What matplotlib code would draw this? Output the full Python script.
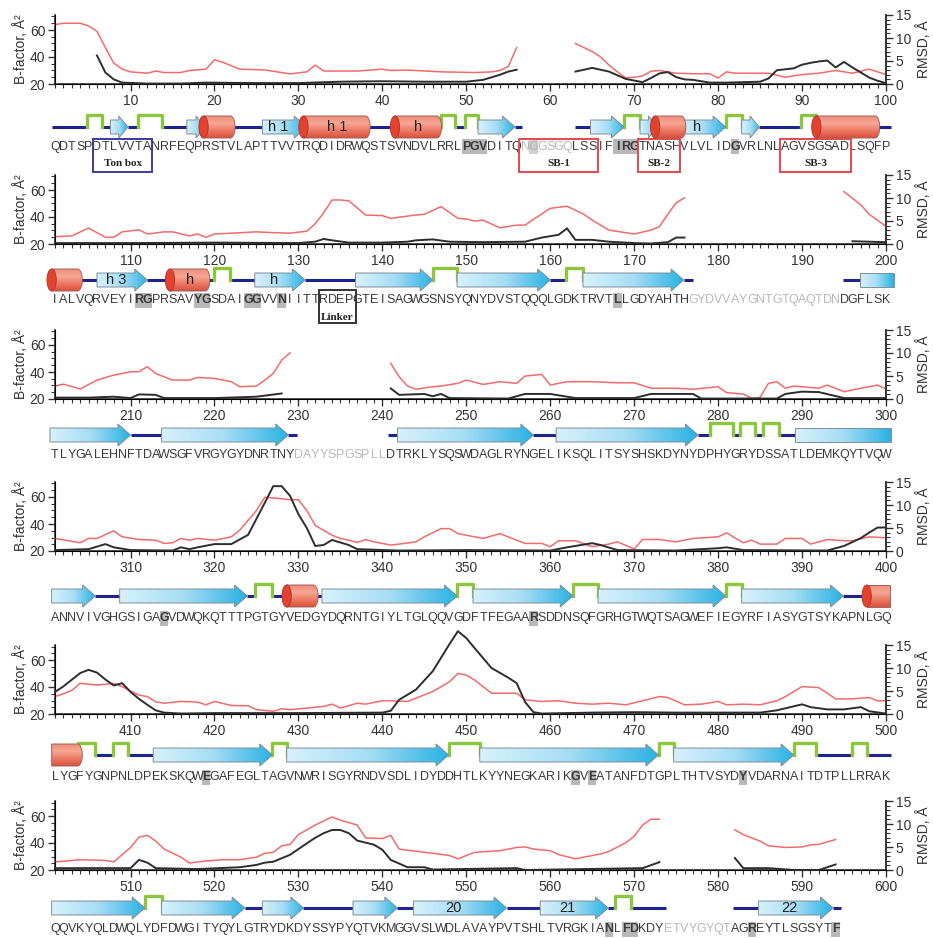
import numpy as np
import matplotlib
matplotlib.use('Agg')
import matplotlib.pyplot as plt
from matplotlib.patches import Polygon, Rectangle, Ellipse
from matplotlib.colors import LinearSegmentedColormap
from matplotlib.ticker import MultipleLocator

plt.rcParams['font.family'] = ['Liberation Sans', 'DejaVu Sans']

nan = np.nan

# ---- B-factor (red, left axis) and RMSD (black, right axis), per row ----
bf_res_1 = [1, 2, 4, 5, 6, 7, 8, 9, 10, 12, 13, 14, 16, 17, 19, 20, 21, 23, 26, 29, 31, 32, 33, 37, 40, 41, 43, 47, 51,
            53, 54, 55, 56, nan,
            63, 65, 66, 67, 68, 69, 70, 71, 72, 73, 75, 77, 79, 80, 81, 82, 83, 86, 88, 90, 92, 94, 96, 98, 100]
bf_val_1 = [64, 65, 65, 63, 59, 47, 35.5, 31, 29, 28, 29.6, 28.5, 28.5, 30, 31, 38, 36, 31, 30.4, 27.5, 29, 34, 29.6, 29.6,
            31, 30, 30.3, 29, 28.5, 29, 30, 33, 47, nan,
            50, 44, 40, 34, 29, 24.5, 25, 26, 29.5, 30, 28, 27.6, 27.6, 24.4, 29, 28, 28, 28, 25, 27, 28, 30, 28, 31, 27]
rm_res_1 = [6, 7, 8, 9, 12, 16, 19, 25, 30, 35, 40, 45, 50, 52, 54, 55, 56, nan,
            63, 65, 67, 69, 71, 72, 73, 74, 75, 76, 77, 79, 81, 85, 86, 87, 88, 89, 90, 91, 92, 93, 94, 95, 96, 97, 98, 99, 100]
rm_val_1 = [6.2, 2.5, 1.0, 0.3, 0.1, 0.1, 0.3, 0.2, 0.2, 0.5, 0.6, 0.5, 0.5, 0.9, 2.0, 2.7, 3.1, nan,
            2.7, 3.5, 2.7, 1.1, 0.4, 1.3, 2.3, 2.6, 1.5, 1.0, 0.9, 0.3, 0.3, 0.5, 1.2, 3.0, 3.2, 3.4, 4.2, 4.6, 4.9, 5.1,
            3.6, 4.8, 3.6, 2.5, 1.4, 0.7, 0.2]

bf_res_2 = [101, 103, 105, 107, 108, 109, 111, 112, 114, 115, 117, 118, 119, 120, 122, 125, 127, 129, 131, 132,
            133, 134, 135, 136, 138, 140, 141, 144, 145, 147, 149, 150, 151, 152, 154, 156, 157, 158, 160, 162,
            164, 165, 167, 170, 172, 173, 174, 175, 176, nan, 195, 197, 198, 200]
bf_val_2 = [25.4, 26, 31.8, 25, 25, 29, 30.5, 27.4, 29, 29, 26, 27.4, 25, 27.4, 28, 29, 28.4, 28, 29.5, 35,
            43, 52.6, 52.6, 52, 41.5, 41, 39, 41.5, 42, 47.7, 39, 38.5, 37, 37.7, 32, 34, 34, 38.2, 46.4, 48,
            42, 37.7, 30.3, 27.4, 30.3, 32.8, 42, 50.5, 54.2, nan, 58.8, 49, 42, 33]
rm_res_2 = [101, 110, 120, 130, 132, 133, 134, 136, 140, 143, 144, 146, 148, 152, 157, 159, 161, 162, 163, 165,
            167, 170, 172, 174, 175, 176, nan, 196, 200]
rm_val_2 = [0.2, 0.2, 0.3, 0.2, 0.5, 1.1, 0.8, 0.3, 0.3, 0.5, 0.8, 1.0, 0.5, 0.4, 0.5, 1.4, 2.0, 3.4, 0.9, 0.9,
            0.5, 0.2, 0.1, 0.4, 1.4, 1.4, nan, 0.6, 0.4]

bf_res_3 = [201, 202, 204, 206, 208, 209, 210, 211, 212, 213, 215, 217, 218, 220, 222, 223, 225, 226, 227, 228, 229, nan,
            241, 242, 243, 244, 246, 247, 249, 250, 252, 254, 256, 257, 259, 260, 261, 262, 265, 268, 270, 272, 275,
            277, 280, 281, 283, 284, 285, 286, 287, 288, 289, 292, 293, 295, 297, 299, 300]
bf_val_3 = [29.6, 31, 27.4, 34, 37.7, 38.9, 40.2, 40.2, 43.9, 38.9, 34, 34, 36, 35.2, 32.8, 29.1, 29.6, 34, 38.9, 48.8,
            54.2, nan,
            46.4, 36.5, 29.6, 27.2, 29.1, 29.6, 31.6, 34, 30.8, 32.8, 31.6, 37, 38.2, 30.3, 31.6, 32.8, 32.8, 32, 32, 28,
            28, 27.2, 29.1, 24.7, 23.7, 20.5, 21.2, 31.6, 32.8, 28, 29.6, 28, 30.3, 25.4, 28, 30.3, 27.4]
rm_res_3 = [201, 205, 208, 210, 211, 213, 214, 220, 225, 228, nan,
            241, 242, 245, 246, 247, 248, 255, 257, 260, 263, 270, 272, 277, 278, 287, 288, 290, 292, 295, 300]
rm_val_3 = [0.3, 0.3, 0.5, 0.2, 1.0, 0.9, 0.2, 0.2, 0.5, 1.2, nan,
            2.3, 0.9, 1.1, 0.6, 1.1, 0.2, 0.1, 1.1, 1.1, 0.2, 0.2, 1.1, 1.1, 0.1, 0.1, 1.1, 1.6, 1.5, 0.2, 0.2]

bf_res_4 = [301, 304, 305, 306, 308, 309, 311, 313, 314, 315, 316, 317, 318, 320, 322, 323, 325, 326, 327, 329, 330,
            331, 332, 334, 335, 336, 337, 338, 339, 341, 342, 344, 345, 347, 348, 349, 352, 354, 356, 357, 359, 360,
            361, 363, 365, 367, 368, 370, 371, 373, 375, 377, 380, 381, 383, 384, 385, 387, 388, 390, 391, 393, 395,
            396, 398, 400]
bf_val_4 = [29.3, 26.1, 29.3, 29.3, 34.9, 30.5, 28.5, 28, 25.6, 26.1, 29.3, 28, 29.3, 28, 30.5, 35.4, 50, 59.8, 59.3, 58,
            58, 50, 39, 31.7, 29.3, 28, 26.3, 28.5, 26.8, 24.4, 25.1, 26.8, 30.5, 36.6, 36.6, 32.9, 29.3, 32.9, 28,
            25.6, 25.6, 23.2, 27.6, 27.6, 23.2, 25.1, 26.8, 21.5, 28.5, 28.5, 26.8, 29.3, 30.5, 33.4, 26.1, 28, 25.1,
            25.1, 29.3, 29.3, 25.1, 28.5, 27.6, 27.6, 30.5, 29.8]
rm_res_4 = [301, 305, 307, 308, 310, 315, 316, 317, 318, 320, 322, 324, 325, 326, 327, 328, 329, 330, 331, 332, 333,
            334, 336, 337, 342, 350, 360, 362, 365, 366, 368, 375, 380, 381, 383, 393, 395, 397, 398, 399, 400]
rm_val_4 = [0.2, 0.4, 1.5, 0.8, 0.2, 0.1, 0.8, 0.4, 0.8, 1.5, 1.5, 3.5, 7, 10.5, 14.1, 14.1, 12, 8, 5, 1.1, 1.3,
            2.4, 1.3, 0.4, 0.1, 0.2, 0.1, 0.8, 1.7, 1.3, 0.2, 0.1, 0.6, 0.8, 0.2, 0.1, 1.1, 2.8, 4.0, 5.1, 5.1]

bf_res_5 = [401, 402, 403, 404, 406, 407, 408, 409, 410, 411, 412, 413, 414, 416, 418, 419, 420, 422, 424, 425, 427,
            428, 429, 431, 433, 434, 435, 437, 438, 440, 441, 443, 444, 446, 448, 449, 450, 451, 453, 456, 457, 459,
            461, 463, 465, 467, 469, 471, 473, 474, 476, 478, 480, 481, 483, 485, 487, 488, 490, 492, 493, 494, 496,
            498, 499, 500]
bf_val_5 = [32.9, 35, 37.5, 42.7, 41.5, 42, 42.7, 40.3, 37, 34, 32.9, 29, 28, 29.3, 28.8, 26.8, 29.3, 26.3, 26.1, 23.2,
            22, 23.9, 23.2, 24.4, 25.6, 27.3, 24.4, 28, 27.3, 29.8, 29.8, 29.3, 31.7, 36.6, 43.9, 50, 48.8, 45.1, 35.4,
            35.4, 30.5, 29.3, 29.8, 28, 27.3, 28, 26.8, 29.8, 32.9, 32.2, 26.8, 27.3, 29.3, 26.8, 27.3, 26.8, 29.8, 32.9,
            40.3, 39.5, 35.4, 31.2, 31.2, 32.2, 29.8, 29.8]
rm_res_5 = [401, 402, 404, 405, 406, 407, 408, 409, 410, 411, 412, 413, 414, 416, 420, 430, 440, 441, 442, 444, 446,
            448, 449, 450, 451, 453, 455, 456, 457, 458, 459, 465, 470, 475, 485, 487, 490, 491, 493, 495, 497, 498, 500]
rm_val_5 = [4.8, 6, 8.9, 9.6, 9, 7.5, 6.2, 6.7, 4.8, 3.3, 2, 0.8, 0.3, 0.1, 0.2, 0.2, 0.3, 0.7, 3.1, 5.3, 9.3,
            15.2, 18, 16.5, 14.3, 10, 7.9, 6.7, 2.6, 0.4, 0.1, 0.3, 0.4, 0.3, 0.3, 0.8, 2.1, 1.5, 1.0, 1.0, 1.5, 0.6, 0.1]

bf_res_6 = [501, 504, 507, 508, 510, 511, 512, 513, 514, 516, 517, 519, 521, 523, 525, 526, 527, 528, 529, 530, 532,
            534, 535, 537, 538, 540, 541, 542, 545, 546, 548, 549, 550, 551, 554, 556, 557, 558, 560, 561, 563, 565,
            566, 567, 569, 570, 571, 572, 573, nan, 582, 583, 585, 586, 588, 590, 591, 592, 594]
bf_val_6 = [26, 27.6, 27.1, 26, 36.7, 44.3, 45.7, 41.4, 35.5, 29.5, 25.2, 26.7, 27.6, 27.6, 29.5, 32.4, 33.1, 37.9, 39,
            46.2, 53.3, 59.3, 56.9, 53.3, 43.8, 43.3, 45.7, 35.5, 33.1, 32.4, 30.7, 28.3, 30.7, 33.1, 34.3, 36.7, 37.1,
            35.5, 34.3, 31.4, 28.3, 30.7, 31.9, 33.8, 40.2, 45, 53.3, 57.6, 57.6, nan,
            49.8, 46.2, 41.4, 37.9, 36.7, 37.1, 38.6, 39, 42.6]
rm_res_6 = [501, 510, 511, 512, 513, 518, 523, 525, 526, 527, 529, 531, 532, 533, 534, 535, 536, 537, 539, 540, 541,
            543, 545, 546, 556, 557, 571, 573, nan, 582, 583, 586, 589, 592, 594]
rm_val_6 = [0.4, 0.4, 2.2, 1.6, 0.4, 0.2, 0.6, 1.1, 1.6, 1.8, 3.3, 5.8, 7, 8, 8.7, 8.7, 8, 6.4, 5.5, 4.4, 2.2,
            0.6, 0.6, 0.1, 0.4, 0.0, 0.4, 1.7, nan, 2.6, 0.4, 0.4, 0.0, 0.0, 1.2]

# ---- sequence per row ----
seq_1 = "QDTSPDTLVVTANRFEQPRSTVLAPTTVVTRQDIDRWQSTSVNDVLRRLPGVDITQNGGSGQLSSIFIRGTNASHVLVLIDGVRLNLAGVSGSADLSQFP"
seq_2 = "IALVQRVEYIRGPRSAVYGSDAIGGVVNIITTRDEPGTEISAGWGSNSYQNYDVSTQQQLGDKTRVTLLGDYAHTHGYDVVAYGNTGTQAQTDNDGFLSK"
seq_3 = "TLYGALEHNFTDAWSGFVRGYGYDNRTNYDAYYSPGSPLLDTRKLYSQSWDAGLRYNGELIKSQLITSYSHSKDYNYDPHYGRYDSSATLDEMKQYTVQW"
seq_4 = "ANNVIVGHGSIGAGVDWQKQTTTPGTGYVEDGYDQRNTGIYLTGLQQVGDFTFEGAARSDDNSQFGRHGTWQTSAGWEFIEGYRFIASYGTSYKAPNLGQ"
seq_5 = "LYGFYGNPNLDPEKSKQWEGAFEGLTAGVNWRISGYRNDVSDLIDYDDHTLKYYNEGKARIKGVEATANFDTGPLTHTVSYDYVDARNAITDTPLLRRAK"
seq_6 = "QQVKYQLDWQLYDFDWGITYQYLGTRYDKDYSSYPYQTVKMGGVSLWDLAVAYPVTSHLTVRGKIANLFDKDYETVYGYQTAGREYTLSGSYTF"

# highlighted (boxed) residues and disordered (grey) residue ranges
hi_1 = [50, 51, 52, 58, 68, 69, 70, 82]
hi_2 = [111, 112, 118, 119, 124, 125, 128, 168]
hi_3 = []
hi_4 = [314, 358]
hi_5 = [419, 463, 465, 483]
hi_6 = [567, 569, 570, 584, 594]
grey_1 = [(57, 62)]
grey_2 = [(177, 194)]
grey_3 = [(230, 240)]
grey_4 = []
grey_5 = []
grey_6 = [(574, 581)]

# ---- secondary structure: c coil, t turn, s strand, S strand (cut), h helix, H helix (cut right), k helix (cut left)
ss_1 = [('c', 0.6, 4.8), ('t', 4.8, 6.6), ('c', 6.6, 7.6), ('s', 7.6, 9.7), ('c', 9.7, 10.9), ('t', 10.9, 13.8),
        ('c', 13.8, 16.7), ('s', 16.7, 18.9), ('h', 18.7, 21.9), ('c', 21.9, 25.7), ('s', 25.7, 31.0, 'h 1'),
        ('h', 30.6, 38.0, 'h 1'), ('c', 38, 41.5), ('h', 41.5, 46.5, 'h'), ('c', 46.5, 47), ('t', 47, 48.7),
        ('c', 48.7, 49.9), ('t', 49.9, 51.4), ('s', 51.4, 55.8), ('c', 55.8, 56.6),
        ('c', 63, 64.8), ('s', 64.8, 68.8), ('t', 68.8, 70.7), ('s', 70.7, 72.8), ('h', 72.5, 75.6),
        ('s', 75.6, 80.9, 'h'), ('t', 80.9, 82.8), ('s', 82.8, 84.9), ('c', 84.9, 89.9), ('t', 89.9, 91.7),
        ('h', 91.7, 98.7), ('c', 98.7, 100.6)]
ss_2 = [('h', 100.6, 103.7), ('c', 103.7, 106), ('s', 106, 112, 'h 3'), ('c', 112, 114.7), ('h', 114.7, 118.9, 'h'),
        ('c', 118.9, 120), ('t', 120, 121.9), ('c', 121.9, 124.8), ('s', 124.8, 130.8, 'h'), ('c', 130.8, 136.8),
        ('s', 136.8, 146), ('t', 146, 148.9), ('s', 148.9, 160), ('c', 160, 161.9), ('t', 161.9, 163.9),
        ('s', 163.9, 175.9), ('c', 175.9, 177), ('c', 194.9, 196.9), ('S', 196.9, 200.9)]
ss_3 = [('s', 200.4, 210), ('c', 210, 213.7), ('s', 213.7, 228.8), ('c', 228.8, 229.8), ('c', 240.7, 241.8),
        ('s', 241.8, 258), ('c', 258, 260.7), ('s', 260.7, 277.6), ('c', 277.6, 279), ('t', 279, 281.8),
        ('c', 281.8, 282.6), ('t', 282.6, 284.4), ('c', 284.4, 285.4), ('t', 285.4, 287.2), ('c', 287.2, 289.2),
        ('S', 289.2, 300.6)]
ss_4 = [('s', 300.6, 305.8), ('c', 305.8, 308.7), ('s', 308.7, 323.9), ('c', 323.9, 324.8), ('t', 324.8, 326.9),
        ('c', 326.9, 328.6), ('h', 328.6, 331.8), ('c', 331.8, 332.8), ('s', 332.8, 348.9), ('t', 348.9, 350.8),
        ('s', 350.8, 362.7), ('t', 362.7, 365.7), ('s', 365.7, 380.9), ('t', 380.9, 382.8), ('s', 382.8, 394.9),
        ('c', 394.9, 397.7), ('H', 397.7, 400.5)]
ss_5 = [('k', 400.6, 403.7), ('t', 403.7, 405.8), ('c', 405.8, 407.9), ('t', 407.9, 409.7), ('c', 409.7, 412.7),
        ('s', 412.7, 426.9), ('t', 426.9, 428.6), ('s', 428.6, 447.9), ('t', 447.9, 451.6), ('s', 451.6, 472.9),
        ('t', 472.9, 474.7), ('s', 474.7, 489), ('t', 489, 491.7), ('c', 491.7, 495.9), ('t', 495.9, 497.7),
        ('c', 497.7, 500.6)]
ss_6 = [('s', 500.6, 511.7), ('t', 511.7, 513.7), ('s', 513.7, 523.6), ('c', 523.6, 525.7), ('s', 525.7, 530.6),
        ('c', 530.6, 536.5), ('s', 536.5, 541.8), ('c', 541.8, 543.7), ('s', 543.7, 554.8, '20'), ('c', 554.8, 558.8),
        ('s', 558.8, 566.9, '21'), ('c', 566.9, 567.7), ('t', 567.7, 569.6), ('c', 569.6, 573.8),
        ('c', 581.8, 584.8), ('s', 584.8, 593.7, '22'), ('c', 593.7, 594.6)]

# labelled boxes under the sequence: (first, last, text, colour, top px, bottom px)
boxes_1 = [(5.5, 12.6, 'Ton box', '#3b3ba0', -12, -45), (56.3, 65.7, 'SB-1', '#e8484d', -12, -45),
           (70.5, 75.5, 'SB-2', '#e8484d', -12, -45), (87.4, 95.8, 'SB-3', '#e8484d', -12, -45)]
boxes_2 = [(132.5, 136.8, 'Linker', '#333333', -10, -43)]

# ---- layout (pixels) ----
W, HF = 933, 938
AX_L, AX_R = 55, 886
PPR = (AX_R - AX_L) / 99.0
plot_top = [15, 175, 330, 482, 645, 801]
plot_bot = [84, 244, 399, 551, 714, 870]
strip_mid = [127, 280, 435, 596, 755, 908]
seq_off = [20, 20, 20, 22, 22, 21]

RED = '#f26b6b'
DARK = '#2d2d2d'
NAVY = '#1f2390'
GREEN = '#8cc63f'
EDGE = '#7d8e9a'
cm_strand = LinearSegmentedColormap.from_list('st', ['#d8f1fb', '#a6ddf4', '#27b2e4'])
cm_helix = LinearSegmentedColormap.from_list('hx', ['#d9503c', '#ec7862', '#f6a795', '#f08d79'])


def rect(l, t, r, b):
    return [l / W, 1 - b / HF, (r - l) / W, (b - t) / HF]


def draw_strand(ax, a, b, label=None, head=True):
    bw, hw = 7, 11
    hl = 1.5 if b - a > 3 else 1.1
    if head:
        verts = [(a, -bw), (b - hl, -bw), (b - hl, -hw), (b, 0), (b - hl, hw), (b - hl, bw), (a, bw)]
    else:
        verts = [(a, -bw), (b, -bw), (b, bw), (a, bw)]
    poly = Polygon(verts, closed=True, fc='none', ec=EDGE, lw=0.7, zorder=4)
    ax.add_patch(poly)
    grad = np.linspace(0, 1, 256).reshape(1, -1)
    im = ax.imshow(grad, extent=[a, b, -hw, hw], aspect='auto', cmap=cm_strand, origin='lower', zorder=3)
    im.set_clip_path(poly)
    if label:
        ax.text((a + b - (hl if head else 0)) / 2, 0, label, ha='center', va='center',
                fontsize=10.5, color='#222222', zorder=6)


def draw_helix(ax, a, b, label=None, left=True, right=True):
    hh = 11
    r = 0.55
    t = np.linspace(np.pi / 2, -np.pi / 2, 30)
    verts = [(a, hh)]
    if right:
        verts += [(b + r * np.cos(v), hh * np.sin(v)) for v in t]
    else:
        verts += [(b, hh), (b, -hh)]
    verts += [(a, -hh)]
    body = Polygon(verts, closed=True, fc='none', ec='#a0625a', lw=0.7, zorder=6)
    ax.add_patch(body)
    grad = np.linspace(0, 1, 256).reshape(-1, 1)
    im = ax.imshow(grad, extent=[a - r, b + r, -hh, hh], aspect='auto', cmap=cm_helix, origin='lower', zorder=5)
    im.set_clip_path(body)
    if left:
        ax.add_patch(Ellipse((a, 0), 2 * r, 2 * hh, fc='#e5412f', ec='#b13a30', lw=0.7, zorder=7))
    if label:
        ax.text((a + b) / 2 + 0.3, 0, label, ha='center', va='center', fontsize=10.5, color='#222222', zorder=8)


def draw_row(i, start, bf_x, bf_y, rm_x, rm_y, ss, seq, hi, grey, boxes):
    top, bot = plot_top[i], plot_bot[i]
    ax = fig.add_axes(rect(AX_L, top, AX_R, bot))
    ax.plot(bf_x, bf_y, color=RED, lw=1.1, clip_on=False, zorder=3)
    ax.set_xlim(start + 1, start + 100)
    ax.set_ylim(20, 20 + (bot - top) / 1.35)
    ax.xaxis.set_major_locator(MultipleLocator(10))
    ax.xaxis.set_minor_locator(MultipleLocator(1))
    ax.yaxis.set_major_locator(MultipleLocator(20))
    ax.yaxis.set_minor_locator(MultipleLocator(5))
    ax.tick_params(which='major', length=5, width=1.0, colors='#333333', labelsize=10, pad=2)
    ax.tick_params(which='minor', length=3, width=0.8, colors='#333333')
    ax.spines['top'].set_visible(False)
    for s in ['left', 'bottom', 'right']:
        ax.spines[s].set_linewidth(1.2)
        ax.spines[s].set_color('#333333')
    ax.set_ylabel('B-factor, Å²', fontsize=10, color='#333333')
    ax.yaxis.set_label_coords(-0.033, 0.5)
    ax.patch.set_alpha(0)

    ax2 = ax.twinx()
    ax2.plot(rm_x, rm_y, color=DARK, lw=1.4, clip_on=False, zorder=4)
    ax2.set_ylim(0, 15)
    ax2.yaxis.set_major_locator(MultipleLocator(5))
    ax2.yaxis.set_minor_locator(MultipleLocator(1))
    ax2.tick_params(which='major', length=5, width=1.0, colors='#333333', labelsize=10, pad=2)
    ax2.tick_params(which='minor', length=3, width=0.8, colors='#333333')
    ax2.spines['top'].set_visible(False)
    ax2.spines['right'].set_linewidth(1.2)
    ax2.spines['right'].set_color('#333333')
    ax2.set_ylabel('RMSD, Å', fontsize=10, color='#333333')
    ax2.yaxis.set_label_coords(1.036, 0.5)

    # structure strip
    mid = strip_mid[i]
    SL, SR = 25, 915
    axs = fig.add_axes(rect(SL, mid - 20, SR, mid + 20))
    axs.axis('off')
    for el in ss:
        kind, a, b = el[0], el[1], el[2]
        lab = el[3] if len(el) > 3 else None
        if kind == 'c':
            axs.plot([a, b], [0, 0], color=NAVY, lw=2.2, solid_capstyle='butt', zorder=1, clip_on=False)
        elif kind == 't':
            axs.plot([a, a, b, b], [0, 12, 12, 0], color=GREEN, lw=2.4, zorder=2, clip_on=False)
        elif kind == 's':
            draw_strand(axs, a, b, lab)
        elif kind == 'S':
            draw_strand(axs, a, b, lab, head=False)
        elif kind == 'h':
            draw_helix(axs, a, b, lab)
        elif kind == 'H':
            draw_helix(axs, a, b, lab, right=False)
        elif kind == 'k':
            draw_helix(axs, a, b, lab, left=False)

    # sequence
    ys = -seq_off[i]
    k = 0
    while k < len(hi):
        j = k
        while j + 1 < len(hi) and hi[j + 1] == hi[j] + 1:
            j += 1
        fc = '#d0d0d0' if any(g0 <= hi[k] <= g1 for g0, g1 in grey) else '#b8b8b8'
        axs.add_patch(Rectangle((hi[k] - 0.5, ys - 7.5), hi[j] - hi[k] + 1, 15, fc=fc, ec='none',
                                zorder=0, clip_on=False))
        k = j + 1
    for n, ch in enumerate(seq):
        r = start + 1 + n
        is_grey = any(g0 <= r <= g1 for g0, g1 in grey)
        col = '#b9b9b9' if is_grey else '#3a3a3a'
        axs.text(r, ys, ch, ha='center', va='center', fontsize=9, color=col,
                 fontweight='bold' if r in hi else 'normal', clip_on=False, zorder=2)

    for a, b, txt, col, yt, yb in boxes:
        axs.add_patch(Rectangle((a, yb), b - a, yt - yb, fc='none', ec=col, lw=1.4, zorder=3, clip_on=False))
        axs.text((a + b) / 2, -37, txt, ha='center', va='center', fontsize=8, fontweight='bold',
                 family=['Liberation Serif', 'DejaVu Serif'], color='#222222', clip_on=False)

    axs.set_xlim(start + 1 + (SL - AX_L) / PPR, start + 1 + (SR - AX_L) / PPR)
    axs.set_ylim(-20, 20)


fig = plt.figure(figsize=(9.33, 9.38), dpi=100)
fig.patch.set_facecolor('white')

draw_row(0, 0, bf_res_1, bf_val_1, rm_res_1, rm_val_1, ss_1, seq_1, hi_1, grey_1, boxes_1)
draw_row(1, 100, bf_res_2, bf_val_2, rm_res_2, rm_val_2, ss_2, seq_2, hi_2, grey_2, boxes_2)
draw_row(2, 200, bf_res_3, bf_val_3, rm_res_3, rm_val_3, ss_3, seq_3, hi_3, grey_3, [])
draw_row(3, 300, bf_res_4, bf_val_4, rm_res_4, rm_val_4, ss_4, seq_4, hi_4, grey_4, [])
draw_row(4, 400, bf_res_5, bf_val_5, rm_res_5, rm_val_5, ss_5, seq_5, hi_5, grey_5, [])
draw_row(5, 500, bf_res_6, bf_val_6, rm_res_6, rm_val_6, ss_6, seq_6, hi_6, grey_6, [])

fig.savefig('out.png', dpi=100)
